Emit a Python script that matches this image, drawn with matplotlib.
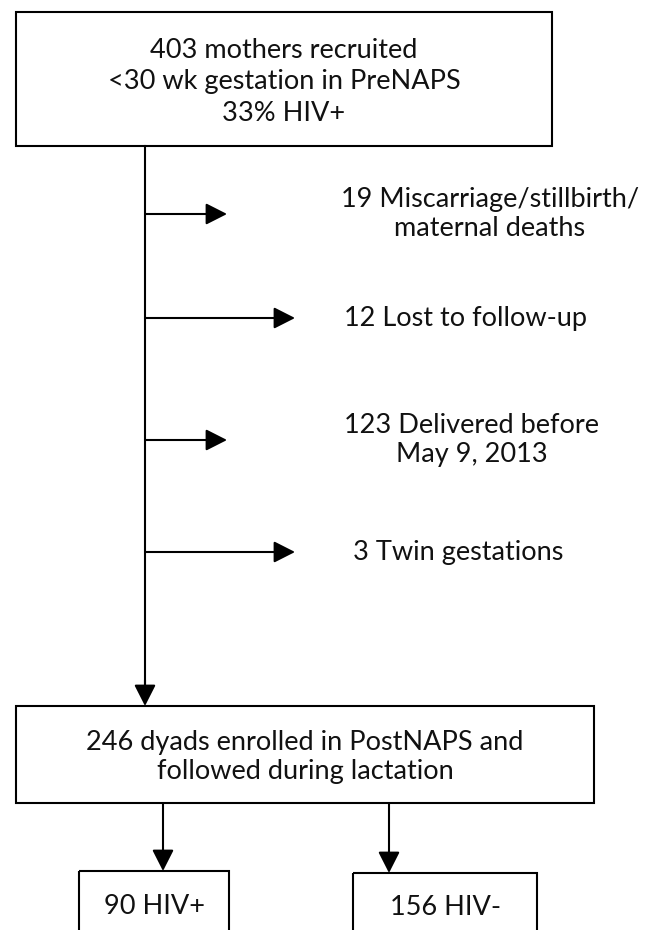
import matplotlib.pyplot as plt
from matplotlib.patches import Rectangle

# Flowchart content
recruited = 403
hiv_pct = 33
exclusions = [19, 12, 123, 3]
exclusion_labels = ["Miscarriage/stillbirth/\nmaternal deaths",
                    "Lost to follow-up",
                    "Delivered before\nMay 9, 2013",
                    "Twin gestations"]
enrolled = 246
hiv_pos = 90
hiv_neg = 156

plt.rcParams['font.family'] = ['Lato', 'DejaVu Sans']

fig = plt.figure(figsize=(6.58, 9.30), dpi=100)
ax = fig.add_axes([0, 0, 1, 1])
ax.set_xlim(0, 658)
ax.set_ylim(930, 0)
ax.axis('off')

fs = 19.5
lw = 1.5
arrow_kw = dict(arrowstyle='-|>,head_length=0.65,head_width=0.33',
                mutation_scale=20, lw=lw, color='black',
                shrinkA=0, shrinkB=0)

def box(x0, y0, x1, y1):
    ax.add_patch(Rectangle((x0, y0), x1 - x0, y1 - y0, fill=False,
                           edgecolor='black', lw=lw, clip_on=False))

def arrow(x0, y0, x1, y1):
    ax.annotate('', xy=(x1, y1), xytext=(x0, y0), arrowprops=arrow_kw)

# top box
box(16, 12, 552, 146)
ax.text(284, 82, f"{recruited} mothers recruited\n<30 wk gestation in PreNAPS\n{hiv_pct}% HIV+",
        ha='center', va='center', fontsize=fs, linespacing=1.33, color='#111111')

# main trunk
trunk_x = 145
ax.plot([trunk_x, trunk_x], [146, 690], color='black', lw=lw)
arrow(trunk_x, 680, trunk_x, 706)

# side exits
exit_y = [214, 318, 440, 552]
exit_tip = [227, 295, 227, 295]
label_x = [490, 465, 472, 458]
for n, lab, y, tx, lx in zip(exclusions, exclusion_labels, exit_y, exit_tip, label_x):
    arrow(trunk_x, y, tx, y)
    ax.text(lx, y, f"{n} {lab}", ha='center', va='center',
            fontsize=fs, linespacing=1.2, color='#111111')

# enrolled box
box(16, 706, 594, 803)
ax.text(305, 757, f"{enrolled} dyads enrolled in PostNAPS and\nfollowed during lactation",
        ha='center', va='center', fontsize=fs, linespacing=1.2, color='#111111')

# split by HIV status
arrow(163, 803, 163, 871)
arrow(389, 803, 389, 873)
box(79, 871, 229, 980)
box(353, 873, 537, 980)
ax.text(154, 906, f"{hiv_pos} HIV+", ha='center', va='center', fontsize=fs, color='#111111')
ax.text(446, 907, f"{hiv_neg} HIV-", ha='center', va='center', fontsize=fs, color='#111111')

fig.savefig('out.png', dpi=100)
